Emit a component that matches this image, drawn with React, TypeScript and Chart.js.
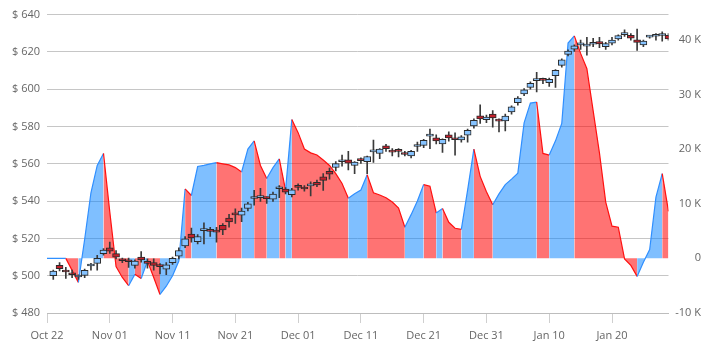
import { useEffect, useRef } from 'react';
import { Chart, registerables } from 'chart.js';

Chart.register(...registerables);

// Candles: day index 1..99 counted from Oct 22
const opens = [
  500, 505.5, 502.3, 501.5, 499.3, 500.2, 505.2, 506.6, 511.8, 515,
  511.8, 508.4, 507.8, 505.5, 510, 506.9, 507, 505.2, 503.5, 507,
  510.5, 516, 522.3, 518.3, 524.2, 524.1, 523.7, 527, 530.9, 533.6,
  532.5, 536.1, 541.4, 541.9, 541.6, 541.1, 546.6, 546.4, 543.4, 548.5,
  547.5, 548.2, 550.1, 553, 556, 558, 561.1, 562.1, 559.1, 561.9,
  561.2, 566.4, 565.5, 569.7, 566.5, 566.9, 566, 564.2, 569.3, 569.9,
  574.8, 573.9, 570.7, 575.6, 573.2, 572.8, 575.3, 580.3, 585.7, 583.6,
  586.7, 583.2, 583, 587.8, 592.8, 597.5, 601, 604.6, 605, 603.5,
  607.3, 612.8, 618.7, 621.5, 623.8, 623.1, 624.1, 625.5, 622.8, 624.7,
  627, 629.3, 628.9, 626.5, 623.7, 627.9, 628.4, 628.8, 628.9,
];
const highs = [
  503, 507, 504.5, 503, 500.5, 503.5, 506.6, 510.9, 514.5, 518,
  513.5, 509.5, 509.5, 508.5, 513, 509, 509, 506.5, 507, 510,
  515, 521, 525.5, 522, 528.4, 526, 526, 528, 532.9, 535.8,
  536.3, 539.3, 545.8, 546.8, 542.3, 544.8, 548.3, 547.3, 546.8, 549.3,
  548.3, 550.3, 551.3, 554.7, 557.7, 561.2, 564.7, 566.7, 561.2, 563.2,
  564.2, 572.7, 568.2, 570.5, 568.2, 568.2, 566.7, 567.2, 571.6, 573.1,
  578.6, 575.6, 573.4, 577.1, 576.6, 575.1, 578.6, 584.1, 591.6, 586.1,
  588.6, 584.1, 586.6, 591.1, 596, 600.3, 604, 609, 606, 606,
  610.5, 616.3, 621.1, 623.8, 626.3, 627.8, 627.3, 627.8, 625.1, 627.8,
  629.1, 631.8, 629.8, 632.3, 626.3, 628.6, 629.8, 630.8, 629.8,
];
const lows = [
  498, 502.5, 498.6, 499, 498, 499, 502.9, 502.9, 511, 512,
  509, 507, 504.5, 504, 507.3, 504, 503, 501, 500.5, 506,
  509, 515, 518, 517, 517, 521, 518, 522, 526, 528,
  529, 534.8, 537.8, 539.8, 538.8, 539.8, 541.8, 543.8, 542.3, 545.8,
  545.3, 542.8, 547.8, 545.7, 551.7, 556.2, 558.7, 556.7, 554.7, 560.2,
  554.7, 560.7, 562.7, 566.7, 564.2, 563.7, 564.2, 563.2, 566.6, 568.6,
  568.1, 570.6, 566.1, 572.1, 564.6, 571.6, 571.6, 579.1, 581.6, 582.1,
  579.6, 577.1, 577.6, 586.6, 591.5, 596.5, 600, 598.5, 603, 601.5,
  601, 611.8, 617.8, 620.3, 621.3, 618.3, 622.8, 622.3, 621.3, 623.8,
  626.3, 628.3, 626.3, 620.8, 622.8, 627.3, 626.3, 625.8, 626.3,
];
const closes = [
  502.5, 503.8, 502, 500.5, 499.6, 502.9, 505.6, 509.3, 513.8, 513.2,
  510, 508, 507.5, 507.8, 508.5, 506.6, 505.5, 504.9, 505.8, 509.3,
  513.5, 519.8, 520.3, 521, 524.6, 523.8, 523.4, 524.5, 528.9, 532.6,
  534.6, 538.6, 541.7, 542.2, 541.3, 543.8, 546.9, 544.8, 546.1, 547.4,
  546.5, 548.6, 548.7, 551.1, 554.4, 560.1, 561.4, 560.3, 560.9, 561.7,
  563.9, 566.7, 567.9, 568.1, 566.3, 566.7, 565, 566.7, 569.6, 572.6,
  575.1, 572.3, 573.1, 573.9, 572.9, 574.5, 577.9, 583.3, 584.1, 585,
  584.6, 582.9, 585.6, 590.5, 595.2, 599.7, 603.2, 604.9, 604.7, 605.3,
  610.1, 615.8, 620.5, 623.2, 624.1, 623.4, 624.4, 624.3, 624.5, 626.3,
  628.7, 629.6, 627.3, 625.1, 625.8, 628.1, 628.7, 629.1, 626.9,
];

// Oscillator (right axis, thousands), day index 0..99
const oscValues = [
  0, 0, 0, 0, -2.2, -4.4, 3.5, 12, 17, 19.2,
  8.5, -1.5, -3.5, -5, -2.9, -3.7, -0.5, -3.5, -6.6, -5.1,
  -3.2, -0.5, 12.7, 11.5, 16.8, 17, 17.3, 17.5, 17.3, 17.1,
  16.6, 15.8, 20, 21.5, 17, 14.6, 16.6, 18.2, 12.5, 25.4,
  23, 20, 19.3, 18.9, 18, 17, 15.5, 13.7, 11, 11.8,
  12.5, 15.3, 12, 11.6, 11.1, 10.3, 9.2, 5.7, 8, 10.5,
  13.5, 13.2, 8.3, 9.1, 6.6, 5.5, 5.3, 12.5, 20, 15,
  12.2, 9.8, 11.8, 13.5, 14.5, 15.6, 24.8, 28.4, 28.6, 19.2,
  18.9, 21.5, 24.7, 39.4, 40.7, 37.5, 34.7, 27, 19.3, 10.3,
  5.9, 5.7, -0.1, -1.3, -3.3, -0.7, 1.6, 11.2, 15.5, 8.6,
];

const xTickLabels = ['Oct 22', 'Nov 01', 'Nov 11', 'Nov 21', 'Dec 01', 'Dec 11', 'Dec 21', 'Dec 31', 'Jan 10', 'Jan 20'];
const rightTickValues = [-10000, 0, 10000, 20000, 30000, 40000];

const BLUE_LINE = '#2f8fff';
const BLUE_FILL = 'rgba(0,128,255,0.5)';
const RED_LINE = '#ff1010';
const RED_FILL = 'rgba(255,0,0,0.55)';
const BODY_UP = '#86c3ff';
const BODY_DOWN = '#c4202c';
const TEXT = '#666';

export default function App() {
  const ref = useRef<HTMLCanvasElement | null>(null);

  useEffect(() => {
    if (!ref.current) return;
    const font = { family: "'Open Sans', sans-serif", size: 11 };
    const up = closes.map((c, i) => c >= opens[i]);
    const down = (ctx: any) => ctx.p1.parsed.y < ctx.p0.parsed.y;

    const chart = new Chart(ref.current, {
      type: 'line',
      data: {
        datasets: [
          {
            type: 'line',
            label: 'osc',
            yAxisID: 'y1',
            data: oscValues.map((v, i) => ({ x: i, y: v * 1000 })),
            fill: 'origin',
            borderWidth: 1.2,
            pointRadius: 0,
            tension: 0,
            borderColor: BLUE_LINE,
            backgroundColor: BLUE_FILL,
            order: 3,
            segment: {
              borderColor: (ctx: any) => (down(ctx) ? RED_LINE : BLUE_LINE),
              backgroundColor: (ctx: any) => (down(ctx) ? RED_FILL : BLUE_FILL),
            },
          } as any,
          {
            type: 'bar',
            label: 'wick',
            yAxisID: 'y',
            data: lows.map((l, i) => ({ x: i + 1, y: [l, highs[i]] })),
            barThickness: 1,
            backgroundColor: '#3a3a3a',
            borderWidth: 0,
            grouped: false,
            order: 2,
          } as any,
          {
            type: 'bar',
            label: 'body',
            yAxisID: 'y',
            data: opens.map((o, i) => ({ x: i + 1, y: [o, closes[i]] })),
            barThickness: 7,
            backgroundColor: up.map((u) => (u ? BODY_UP : BODY_DOWN)),
            borderColor: '#2a2a2a',
            borderWidth: 1,
            borderSkipped: false,
            minBarLength: 2,
            grouped: false,
            order: 1,
          } as any,
        ],
      },
      options: {
        animation: false,
        responsive: false,
        maintainAspectRatio: false,
        layout: { padding: { top: 11, right: 18, bottom: 0, left: 0 } },
        plugins: { legend: { display: false }, tooltip: { enabled: false } },
        scales: {
          x: {
            type: 'linear',
            min: 0,
            max: 99,
            offset: false,
            afterBuildTicks: (s: any) => {
              s.ticks = s.ticks.filter((t: any) => t.value % 10 === 0);
            },
            afterFit: (s: any) => {
              s.height = 40;
            },
            ticks: {
              stepSize: 10,
              autoSkip: false,
              maxRotation: 0,
              padding: 6,
              color: TEXT,
              font,
              callback: (v: any) => xTickLabels[Math.round(v / 10)] ?? '',
            },
            grid: { drawOnChartArea: false, drawTicks: true, tickLength: 10, color: '#cfcfcf', offset: false },
            border: { color: '#bdbdbd' },
          },
          y: {
            position: 'left',
            min: 480,
            max: 640,
            afterFit: (s: any) => {
              s.width = 47;
            },
            ticks: {
              stepSize: 20,
              padding: 7,
              color: TEXT,
              font,
              callback: (v: any) => '$ ' + v,
            },
            grid: { color: '#c6c6c6', drawTicks: false },
            border: { display: false },
          },
          y1: {
            position: 'right',
            min: -10000,
            max: 44600,
            afterBuildTicks: (s: any) => {
              s.ticks = rightTickValues.map((value) => ({ value }));
            },
            afterFit: (s: any) => {
              s.width = 32.5;
            },
            ticks: {
              autoSkip: false,
              padding: 8,
              crossAlign: 'far',
              color: TEXT,
              font,
              callback: (v: any) => (v === 0 ? '0' : v / 1000 + ' K'),
            },
            grid: { drawOnChartArea: false, drawTicks: false },
            border: { display: false },
          },
        },
      } as any,
    });
    return () => chart.destroy();
  }, []);

  return (
    <div style={{ position: 'fixed', left: 0, top: 0, width: 719, height: 353, background: '#fff' }}>
      <canvas ref={ref} width={719} height={353} style={{ display: 'block' }} />
    </div>
  );
}
